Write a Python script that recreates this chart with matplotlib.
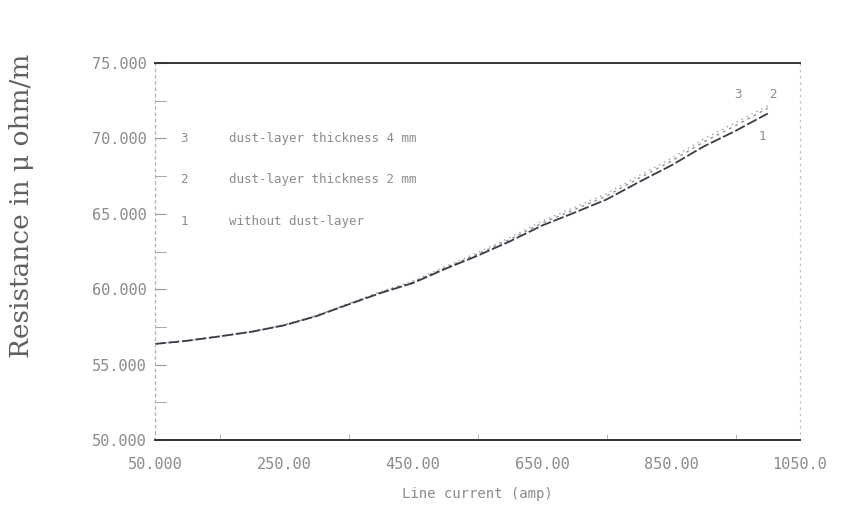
import matplotlib.pyplot as plt
import numpy as np

# values
current = [50, 100, 150, 200, 250, 300, 350, 400, 450, 500,
           550, 600, 650, 700, 750, 800, 850, 900, 950, 1000]
r_no_dust = [56.37, 56.58, 56.87, 57.18, 57.60, 58.21, 58.99, 59.75, 60.41, 61.35,
             62.22, 63.17, 64.22, 65.07, 65.95, 67.10, 68.20, 69.45, 70.50, 71.65]
r_dust_2mm = [56.37, 56.58, 56.87, 57.18, 57.62, 58.23, 59.02, 59.80, 60.48, 61.42,
              62.32, 63.30, 64.38, 65.27, 66.18, 67.35, 68.48, 69.75, 70.85, 72.00]
r_dust_4mm = [56.37, 56.58, 56.88, 57.20, 57.64, 58.26, 59.06, 59.85, 60.55, 61.50,
              62.42, 63.42, 64.52, 65.42, 66.35, 67.52, 68.66, 69.95, 71.05, 72.15]

legend_labels = ['dust-layer thickness 4 mm', 'dust-layer thickness 2 mm', 'without dust-layer']
legend_nums = ['3', '2', '1']
xticks = [50, 250, 450, 650, 850, 1050]
xtick_labels = ['50.000', '250.00', '450.00', '650.00', '850.00', '1050.0']
yticks = [50, 55, 60, 65, 70, 75]
ytick_labels = ['50.000', '55.000', '60.000', '65.000', '70.000', '75.000']

mono = 'DejaVu Sans Mono'
grey = '#8a8a8a'

fig = plt.figure(figsize=(8.43, 5.14), dpi=100)
ax = fig.add_axes([0.1839, 0.144, 0.7651, 0.7334])

ax.plot(current, r_dust_4mm, color='#a0a0a0', lw=1.0, ls=(0, (1, 3)))
ax.plot(current, r_dust_2mm, color='#909090', lw=1.0, ls=(0, (2, 3)))
ax.plot(current, r_no_dust, color='#3a3a4a', lw=1.3, ls=(0, (6, 1.5)))

ax.set_xlim(50, 1050)
ax.set_ylim(50, 75)

ax.set_xticks(xticks)
ax.set_xticklabels(xtick_labels, fontfamily=mono, fontsize=11, color=grey)
ax.set_yticks(yticks)
ax.set_yticklabels(ytick_labels, fontfamily=mono, fontsize=11, color=grey)
ax.set_xticks(np.arange(150, 1050, 100), minor=True)
ax.set_yticks(np.arange(52.5, 75, 5), minor=True)
ax.tick_params(axis='x', which='both', direction='in', length=4, color='#aaaaaa', pad=12)
ax.tick_params(axis='y', which='both', direction='in', length=8, color='#999999', pad=6)
ax.tick_params(axis='x', which='major', length=0)

for side in ['top', 'bottom']:
    ax.spines[side].set_color('#333333')
    ax.spines[side].set_linewidth(1.4)
ax.spines['left'].set_color('#b0b0b0')
ax.spines['left'].set_linestyle((0, (2, 3)))
ax.spines['left'].set_linewidth(0.9)
ax.spines['right'].set_color('#c0c0c0')
ax.spines['right'].set_linestyle((0, (1, 4)))
ax.spines['right'].set_linewidth(0.9)

# legend written as in the original, next to the axis ticks
for i, (num, lab) in enumerate(zip(legend_nums, legend_labels)):
    yv = 70 - 2.75 * i
    ax.text(95, yv, num, fontfamily=mono, fontsize=9, color=grey, va='center', ha='center')
    ax.text(165, yv, lab, fontfamily=mono, fontsize=9, color=grey, va='center')

# curve numbers at the line ends
ax.text(954, 72.9, '3', fontfamily=mono, fontsize=9, color=grey, ha='center', va='center')
ax.text(1008, 72.9, '2', fontfamily=mono, fontsize=9, color=grey, ha='center', va='center')
ax.text(991, 70.1, '1', fontfamily=mono, fontsize=9, color=grey, ha='center', va='center')

ax.set_xlabel('Line current (amp)', fontfamily=mono, fontsize=10, color=grey, labelpad=11)
fig.text(0.026, 0.60, 'Resistance in \u03bc ohm/m', rotation=90, fontfamily='DejaVu Serif',
         fontsize=19, color='#606060', ha='center', va='center')

fig.savefig('out.png', dpi=100)
